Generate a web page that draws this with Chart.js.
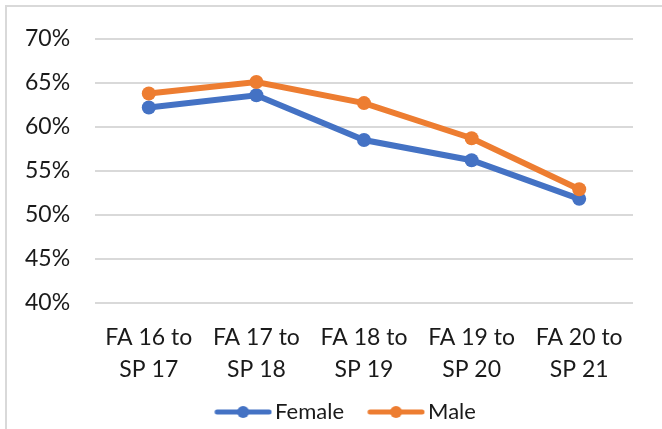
<!DOCTYPE html>
<html>
<head>
<meta charset="utf-8">
<script src="https://cdn.jsdelivr.net/npm/chart.js@4/dist/chart.umd.min.js"></script>
<style>
  html, body { margin: 0; padding: 0; background: #fff; overflow: hidden; }
  #wrap { position: relative; width: 662px; height: 429px; overflow: hidden; }
  #frame { position: absolute; left: 5px; top: 5px; width: 700px; height: 500px;
           border-left: 2px solid #d9d9d9; border-top: 2px solid #d9d9d9; }
  #cv { position: absolute; left: 0; top: 0; }
</style>
</head>
<body>
<div id="wrap">
  <div id="frame"></div>
  <canvas id="cv" width="662" height="433" style="width:662px;height:433px"></canvas>
</div>
<script>
const categories = [
  ['FA 16 to', 'SP 17'],
  ['FA 17 to', 'SP 18'],
  ['FA 18 to', 'SP 19'],
  ['FA 19 to', 'SP 20'],
  ['FA 20 to', 'SP 21']
];
const seriesNames = ['Female', 'Male'];
const femaleValues = [62.2, 63.6, 58.5, 56.2, 51.8];
const maleValues = [63.8, 65.1, 62.7, 58.7, 52.9];
const yMin = 40, yMax = 70, yStep = 5;

const BLUE = '#4472C4', ORANGE = '#ED7D31', TEXT = '#1a1a1a', GRID = '#d9d9d9';

const LEG_W = 59.5, LEG_IMG = 76;
function lineIcon(color) {
  const c = document.createElement('canvas');
  c.width = LEG_IMG; c.height = 14;
  const g = c.getContext('2d');
  const a = LEG_W / 2 + LEG_IMG / 2 - 49.5;
  g.strokeStyle = color; g.lineWidth = 5; g.lineCap = 'round';
  g.beginPath(); g.moveTo(a + 2.5, 7); g.lineTo(a + 54.5, 7); g.stroke();
  g.fillStyle = color;
  g.beginPath(); g.arc(a + 28.5, 7, 6, 0, Math.PI * 2); g.fill();
  return c;
}
const icons = [lineIcon(BLUE), lineIcon(ORANGE)];

new Chart(document.getElementById('cv'), {
  type: 'line',
  data: {
    labels: categories,
    datasets: [
      { label: seriesNames[0], data: femaleValues, borderColor: BLUE, backgroundColor: BLUE,
        pointBackgroundColor: BLUE, pointBorderWidth: 0, pointRadius: 7, borderWidth: 6,
        tension: 0, order: 2 },
      { label: seriesNames[1], data: maleValues, borderColor: ORANGE, backgroundColor: ORANGE,
        pointBackgroundColor: ORANGE, pointBorderWidth: 0, pointRadius: 7, borderWidth: 6,
        tension: 0, order: 1 }
    ]
  },
  options: {
    responsive: false,
    animation: false,
    layout: { padding: { left: 47.5, right: 29, top: 39, bottom: 0 } },
    plugins: {
      tooltip: { enabled: false },
      legend: {
        position: 'bottom',
        labels: {
          usePointStyle: true,
          pointStyleWidth: LEG_W,
          padding: 13.5,
          color: TEXT,
          font: { family: 'Lato', size: 22 },
          generateLabels(chart) {
            return chart.data.datasets.map((ds, i) => ({
              text: ds.label, pointStyle: icons[i], fillStyle: ds.borderColor,
              strokeStyle: ds.borderColor, lineWidth: 0, fontColor: TEXT,
              hidden: !chart.isDatasetVisible(i), datasetIndex: i
            }));
          }
        }
      }
    },
    scales: {
      x: {
        offset: true,
        grid: { display: false, drawTicks: false },
        border: { display: false },
        ticks: { color: TEXT, font: { family: 'Lato', size: 23, lineHeight: 1.39 },
                 padding: 19, maxRotation: 0, autoSkip: false },
        afterFit(scale) { scale.height = 85; }
      },
      y: {
        min: yMin, max: yMax,
        grid: { color: GRID, lineWidth: 2, drawTicks: false },
        border: { display: false },
        ticks: { stepSize: yStep, color: TEXT, mirror: true, padding: -70,
                 font: { family: 'Lato', size: 23 },
                 callback: v => v + '%' },
        afterFit(scale) { scale.width = 47.5; }
      }
    }
  }
});
</script>
</body>
</html>
